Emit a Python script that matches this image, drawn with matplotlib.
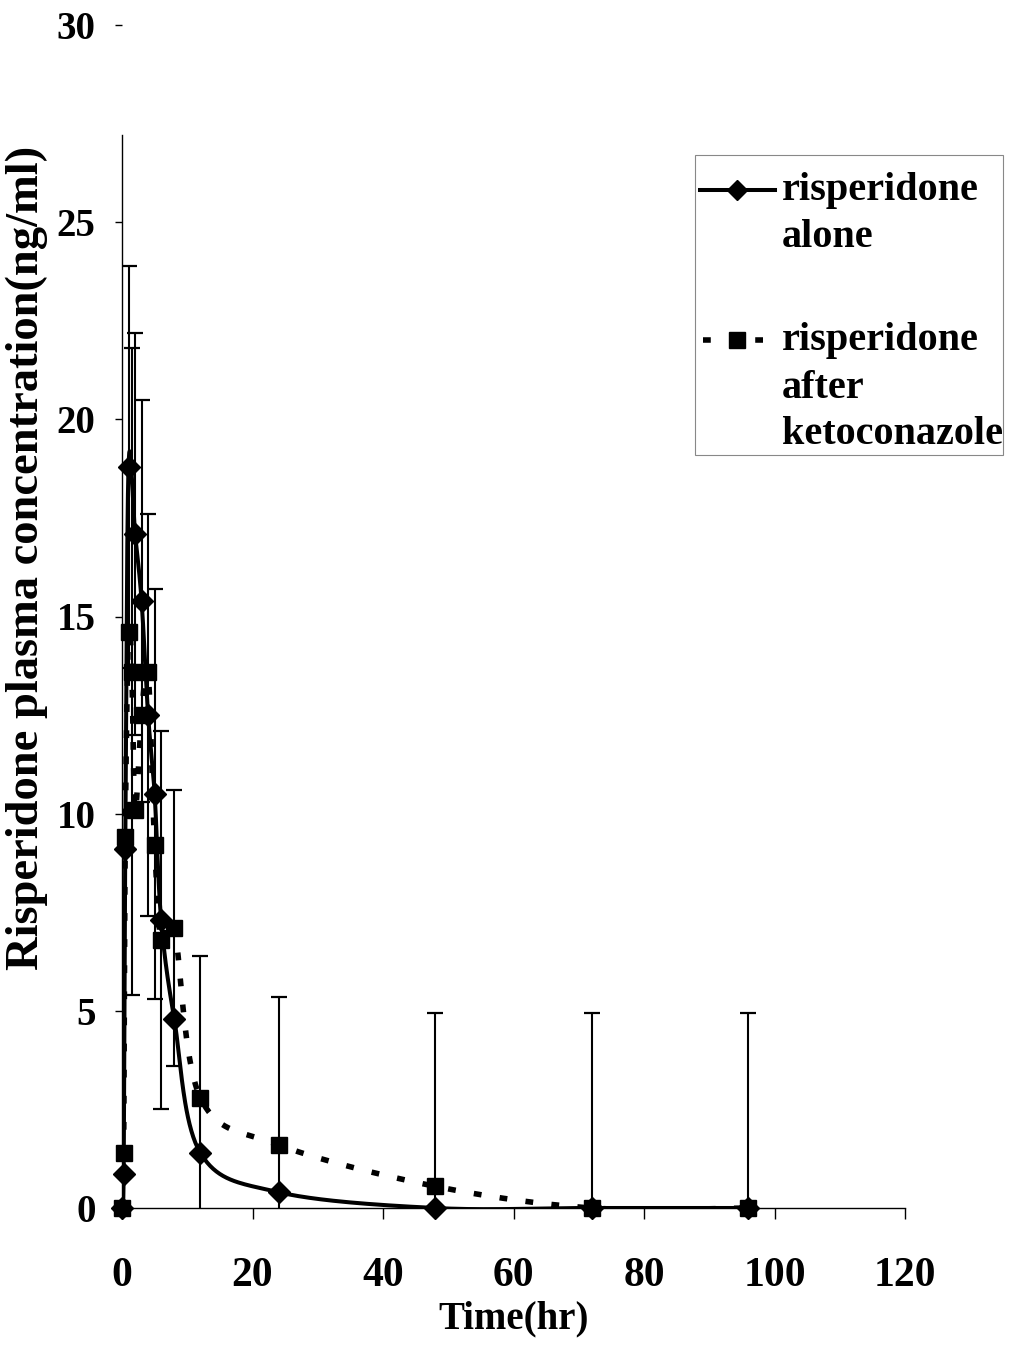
import numpy as np
import matplotlib
matplotlib.use("Agg")
import matplotlib.pyplot as plt
from matplotlib.lines import Line2D
from matplotlib.patches import Rectangle

plt.rcParams['font.family'] = ['Liberation Serif', 'DejaVu Serif']
plt.rcParams['font.weight'] = 'bold'

# sampling times (hr) and mean concentrations (ng/ml)
time_alone = [0, 0.25, 0.5, 1, 2, 3, 4, 5, 6, 8, 12, 24, 48, 72, 96]
conc_alone = [0, 0.85, 9.1, 18.8, 17.1, 15.4, 12.5, 10.5, 7.3, 4.8, 1.4, 0.4, 0, 0, 0]
sd_alone = [0, 0, 0, 5.1, 5.1, 5.1, 5.1, 5.2, 4.8, 0, 5.0, 4.95, 4.95, 4.95, 4.95]

time_keto = [0, 0.25, 0.5, 1, 1.5, 2, 3, 4, 5, 6, 8, 12, 24, 48, 72, 96]
conc_keto = [0, 1.4, 9.4, 14.6, 13.6, 10.1, 12.5, 13.6, 9.2, 6.8, 7.1, 2.8, 1.6, 0.55, 0, 0]
sd_keto = [0, 0, 0, 0, 8.2, 0, 0, 0, 0, 0, 3.5, 0, 0, 0, 0, 0]

x_ticks = [0, 20, 40, 60, 80, 100, 120]
y_ticks = [0, 5, 10, 15, 20, 25, 30]

legend_lines = [['risperidone', 'alone'],
                ['risperidone', 'after', 'ketoconazole']]

W, H = 1009, 1346
DASH = (0, (1.4, 3.3))


def smooth(xs, ys, sx, sy, n=40):
    # bezier smoothing (catmull-rom style) done in screen-like units
    P = np.column_stack([np.asarray(xs, float) * sx, np.asarray(ys, float) * sy])
    out = [P[0]]
    t = np.linspace(0, 1, n)[1:, None]
    for i in range(len(P) - 1):
        p0 = P[i - 1] if i > 0 else P[i]
        p1 = P[i]
        p2 = P[i + 1]
        p3 = P[i + 2] if i + 2 < len(P) else P[i + 1]
        c1 = p1 + (p2 - p0) / 6
        c2 = p2 - (p3 - p1) / 6
        seg = (1 - t)**3 * p1 + 3 * (1 - t)**2 * t * c1 + 3 * (1 - t) * t**2 * c2 + t**3 * p2
        out.extend(seg)
    out = np.array(out)
    return out[:, 0] / sx, out[:, 1] / sy


def fx(px):
    return px / W


def fy(py):
    return 1 - py / H


fig = plt.figure(figsize=(W / 100, H / 100), dpi=100)
ax = fig.add_axes([fx(122), fy(1208), (905 - 122) / W, (1208 - 25) / H])

sx = 783 / 120.0
sy = 1183 / 30.0

# error bars
ax.errorbar(time_alone, conc_alone, yerr=sd_alone, fmt='none', ecolor='black',
            elinewidth=1.5, capsize=6, capthick=1.6, zorder=2)
ax.errorbar(time_keto, conc_keto, yerr=sd_keto, fmt='none', ecolor='black',
            elinewidth=1.5, capsize=6, capthick=1.6, zorder=2)

# smoothed lines
xa, ya = smooth(time_alone, conc_alone, sx, sy)
ax.plot(xa, ya, '-', color='black', lw=2.9, zorder=3)
xk, yk = smooth(time_keto, conc_keto, sx, sy)
ax.plot(xk, yk, color='black', lw=4, linestyle=DASH, zorder=3)

ax.plot(time_alone, conc_alone, 'D', color='black', ms=11, zorder=4, clip_on=False)
ax.plot(time_keto, conc_keto, 's', color='black', ms=12, zorder=4, clip_on=False)

ax.set_xlim(0, 120)
ax.set_ylim(0, 30)
ax.set_xticks(x_ticks)
ax.set_yticks(y_ticks)
ax.tick_params(axis='y', direction='out', length=5, width=1, labelsize=28, pad=14)
ax.tick_params(axis='x', direction='out', length=8, width=1, labelsize=30, pad=27)
for lab in ax.get_xticklabels() + ax.get_yticklabels():
    lab.set_fontweight('bold')
ax.spines['top'].set_visible(False)
ax.spines['right'].set_visible(False)
ax.spines['left'].set_bounds(0, 27.2)
ax.spines['left'].set_linewidth(1)
ax.spines['bottom'].set_linewidth(1)

ax.set_xlabel('Time(hr)', fontsize=28, fontweight='bold', labelpad=4)
fig.text(fx(27), fy(558), 'Risperidone plasma concentration(ng/ml)',
         rotation=90, ha='center', va='center', fontsize=33.5, fontweight='bold')

# legend box drawn by hand so the keys line up with the first text row
fig.add_artist(Rectangle((fx(695), fy(455)), (1003 - 695) / W, (455 - 155) / H,
                         transform=fig.transFigure, fill=False,
                         edgecolor='#888888', lw=0.8))
key_y = [190, 340]
fig.add_artist(Line2D([fx(700), fx(775)], [fy(key_y[0])] * 2, color='black', lw=2.9,
                      transform=fig.transFigure))
fig.add_artist(Line2D([fx(737)], [fy(key_y[0])], marker='D', ms=10, color='black',
                      transform=fig.transFigure))
fig.add_artist(Line2D([fx(703), fx(771)], [fy(key_y[1])] * 2, color='black', lw=4,
                      linestyle=DASH, transform=fig.transFigure))
fig.add_artist(Line2D([fx(737)], [fy(key_y[1])], marker='s', ms=11, color='black',
                      transform=fig.transFigure))
baselines = [[200, 247], [350, 398, 444]]
for rows, bases in zip(legend_lines, baselines):
    for txt, b in zip(rows, bases):
        fig.text(fx(782), fy(b), txt, ha='left', va='baseline',
                 fontsize=29, fontweight='bold')

fig.savefig('out.png', dpi=100)
